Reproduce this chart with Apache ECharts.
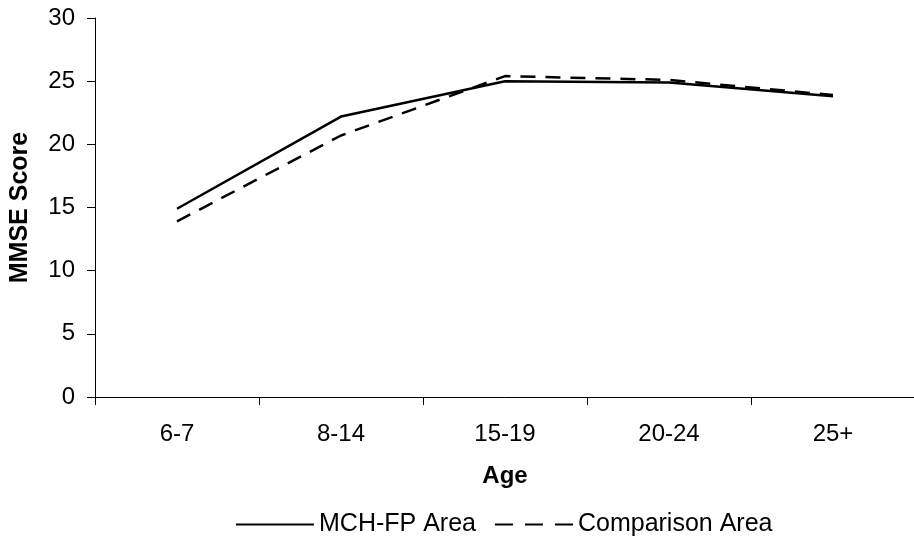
<!DOCTYPE html>
<html>
<head>
<meta charset="utf-8">
<script src="https://cdn.jsdelivr.net/npm/echarts@6/dist/echarts.min.js"></script>
<style>html,body{margin:0;padding:0;background:#fff;}#c{width:914px;height:546px;}</style>
</head>
<body>
<div id="c"></div>
<script>
const categories = ['6-7', '8-14', '15-19', '20-24', '25+'];
const mchValues = [14.9, 22.2, 25.0, 24.9, 23.8];
const comparisonValues = [13.9, 20.7, 25.4, 25.1, 23.9];
const seriesNames = ['MCH-FP Area', 'Comparison Area'];
const FONT = "'Liberation Sans', Arial, sans-serif";

const chart = echarts.init(document.getElementById('c'), null, {renderer: 'canvas'});
chart.setOption({
  animation: false,
  backgroundColor: '#fff',
  textStyle: {fontFamily: FONT, color: '#000'},
  grid: {left: 95, top: 18, width: 820, height: 379, containLabel: false, outerBoundsMode: 'none'},
  legend: {
    left: 230, top: 507,
    itemWidth: 78, itemHeight: 4, itemGap: 18,
    itemStyle: {opacity: 0},
    textStyle: {fontFamily: FONT, fontSize: 25, color: '#000'},
    data: [
      {name: seriesNames[0]},
      {name: seriesNames[1], lineStyle: {type: [18, 12], dashOffset: 0}}
    ]
  },
  xAxis: {
    type: 'category',
    data: categories,
    boundaryGap: true,
    name: 'Age',
    nameLocation: 'middle',
    nameGap: 67,
    nameTextStyle: {fontFamily: FONT, fontSize: 24, fontWeight: 'bold', color: '#000'},
    axisLine: {show: true, lineStyle: {color: '#000', width: 1}},
    axisTick: {show: true, length: 8, alignWithLabel: false, lineStyle: {color: '#000'}},
    axisLabel: {fontFamily: FONT, fontSize: 24, color: '#000', margin: 25},
    splitLine: {show: false}
  },
  yAxis: {
    type: 'value',
    min: 0, max: 30, interval: 5,
    name: 'MMSE Score',
    nameLocation: 'middle',
    nameRotate: 90,
    nameGap: 62,
    nameTextStyle: {fontFamily: FONT, fontSize: 25, fontWeight: 'bold', color: '#000'},
    axisLine: {show: true, lineStyle: {color: '#000', width: 1}},
    axisTick: {show: true, length: 8, lineStyle: {color: '#000'}},
    axisLabel: {fontFamily: FONT, fontSize: 24, color: '#000', margin: 20},
    splitLine: {show: false}
  },
  series: [
    {
      name: seriesNames[0], type: 'line', data: mchValues,
      symbol: 'none', showSymbol: false,
      itemStyle: {color: '#000'},
      lineStyle: {color: '#000', width: 2.5, type: 'solid'}
    },
    {
      name: seriesNames[1], type: 'line', data: comparisonValues,
      symbol: 'none', showSymbol: false,
      itemStyle: {color: '#000'},
      lineStyle: {color: '#000', width: 2.5, type: [15, 10]}
    }
  ]
});
</script>
</body>
</html>
